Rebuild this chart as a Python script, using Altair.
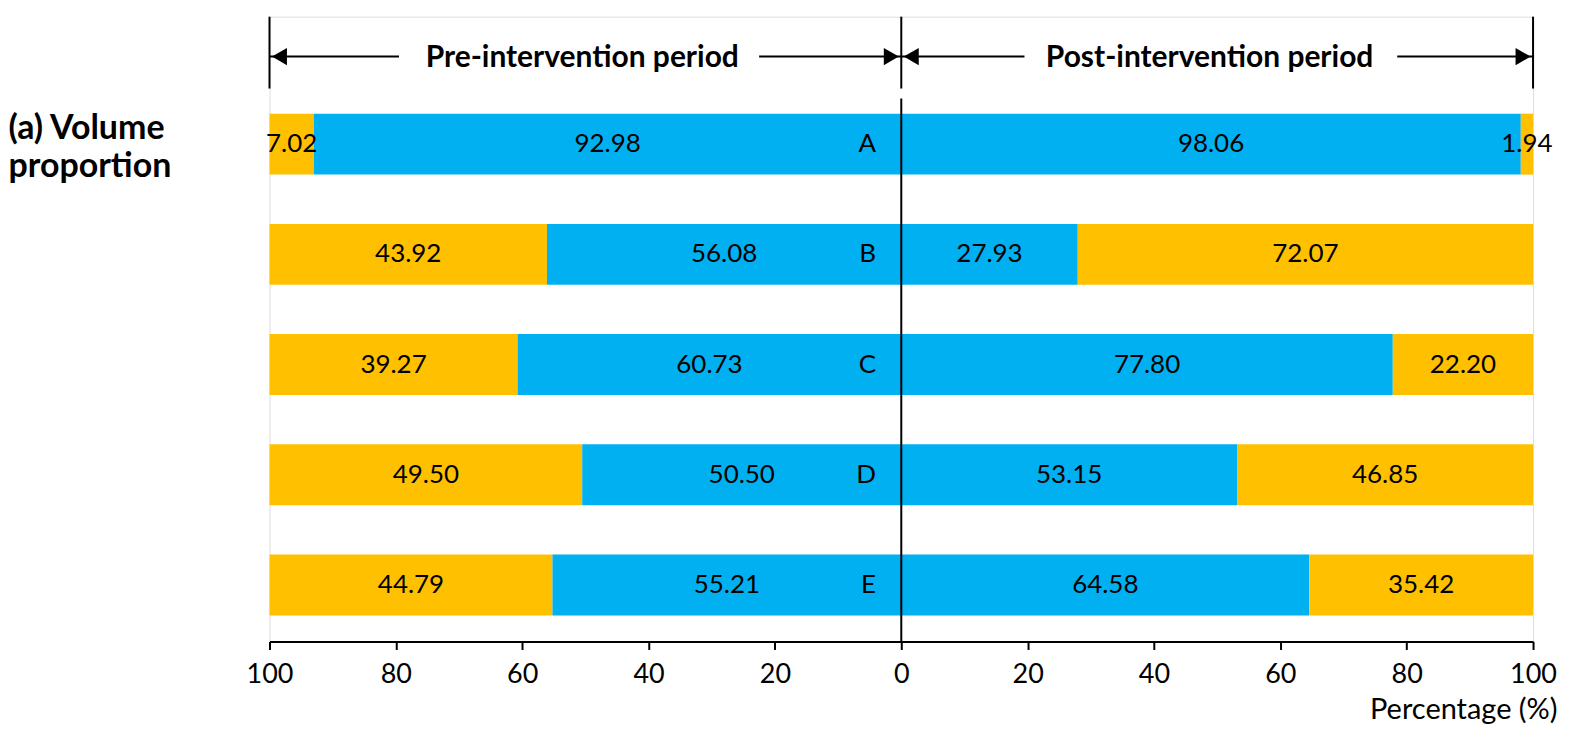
import altair as alt
import pandas as pd

categories = ["A", "B", "C", "D", "E"]
pre_yellow = [7.02, 43.92, 39.27, 49.50, 44.79]
pre_blue = [92.98, 56.08, 60.73, 50.50, 55.21]
post_blue = [98.06, 27.93, 77.80, 53.15, 64.58]
post_yellow = [1.94, 72.07, 22.20, 46.85, 35.42]
tick_values = [-100, -80, -60, -40, -20, 0, 20, 40, 60, 80, 100]
periods = ["Pre-intervention period", "Post-intervention period"]

YELLOW = "#FFC000"
BLUE = "#00B0F0"
FONT = "Lato"

rows = []
for i, c in enumerate(categories):
    rows.append(dict(cat=c, start=-100, end=-100 + pre_yellow[i], kind="y", value=pre_yellow[i]))
    rows.append(dict(cat=c, start=-pre_blue[i], end=0, kind="b", value=pre_blue[i]))
    rows.append(dict(cat=c, start=0, end=post_blue[i], kind="b", value=post_blue[i]))
    rows.append(dict(cat=c, start=post_blue[i], end=post_blue[i] + post_yellow[i], kind="y", value=post_yellow[i]))
seg = pd.DataFrame(rows)
seg["mid"] = (seg["start"] + seg["end"]) / 2
seg["label"] = seg["value"].map(lambda v: f"{v:.2f}")

cat_df = pd.DataFrame({"cat": categories, "pos": [-4] * len(categories)})

W, H = 1266, 626

xscale = alt.Scale(domain=[-100, 100], nice=False, zero=False)
yscale = alt.Scale(domain=categories, paddingInner=0.447, paddingOuter=0.5576, align=0.789)

xaxis = alt.Axis(
    values=tick_values, labelExpr="abs(datum.value)", grid=False, labelFlush=False,
    tickSize=8, tickWidth=2, tickColor="black", domainColor="black", domainWidth=2,
    labelFontSize=27, labelFont=FONT, labelColor="black", labelPadding=33,
    labelBaseline="alphabetic",
    title="Percentage (%)", titleFont=FONT, titleFontSize=29, titleFontWeight="normal",
    titleColor="black", titleAnchor="end", titleAlign="right", titleX=W + 24, titleY=77,
    titleBaseline="alphabetic",
)
yaxis = alt.Axis(
    labels=False, ticks=False, domain=False, grid=False,
    title=["(a) Volume", "proportion"], titleAngle=0, titleAlign="left",
    titleBaseline="alphabetic", titleX=-262, titleY=122, titleFont=FONT,
    titleFontSize=34, titleFontWeight="bold", titleColor="black", titleLineHeight=38,
)

bars = alt.Chart(seg).mark_bar(strokeWidth=0).encode(
    x=alt.X("start:Q", scale=xscale, axis=xaxis),
    x2="end:Q",
    y=alt.Y("cat:N", scale=yscale, axis=yaxis),
    color=alt.Color("kind:N", scale=alt.Scale(domain=["y", "b"], range=[YELLOW, BLUE]), legend=None),
)

labels = alt.Chart(seg).mark_text(font=FONT, fontSize=26, color="black", baseline="middle").encode(
    x=alt.X("mid:Q", scale=xscale), y=alt.Y("cat:N", scale=yscale), text="label:N"
)

cat_labels = alt.Chart(cat_df).mark_text(font=FONT, fontSize=26, color="black", align="right", baseline="middle").encode(
    x=alt.X("pos:Q", scale=xscale), y=alt.Y("cat:N", scale=yscale), text="cat:N"
)

# header elements
markers = pd.DataFrame({"x": [-100, 0, 100]})
top_rules = alt.Chart(markers).mark_rule(color="black", strokeWidth=2).encode(
    x=alt.X("x:Q", scale=xscale), y=alt.value(0), y2=alt.value(72)
)
zero_line = alt.Chart(pd.DataFrame({"x": [0]})).mark_rule(color="black", strokeWidth=2).encode(
    x=alt.X("x:Q", scale=xscale), y=alt.value(82), y2=alt.value(H)
)
arrow_lines_df = pd.DataFrame({"a": [-100, -22.5, 0, 78.5], "b": [-79.5, 0, 19.5, 100]})
arrow_lines = alt.Chart(arrow_lines_df).mark_rule(color="black", strokeWidth=2).encode(
    x=alt.X("a:Q", scale=xscale), x2="b:Q", y=alt.value(40)
)
heads_left = alt.Chart(pd.DataFrame({"x": [-100, 0]})).mark_point(
    shape="triangle-left", filled=True, color="black", size=300, opacity=1, xOffset=10
).encode(x=alt.X("x:Q", scale=xscale), y=alt.value(40))
heads_right = alt.Chart(pd.DataFrame({"x": [0, 100]})).mark_point(
    shape="triangle-right", filled=True, color="black", size=300, opacity=1, xOffset=-10
).encode(x=alt.X("x:Q", scale=xscale), y=alt.value(40))
head_text = alt.Chart(pd.DataFrame({"x": [-50.5, 48.8], "t": periods})).mark_text(
    font=FONT, fontSize=30, fontWeight="bold", color="black", baseline="middle"
).encode(x=alt.X("x:Q", scale=xscale), y=alt.value(41), text="t:N")

chart = alt.layer(
    bars, labels, cat_labels, zero_line, top_rules, arrow_lines, heads_left, heads_right, head_text
).properties(
    width=W, height=H, padding={"left": 0, "top": 7, "right": 5, "bottom": 0}
).configure_view(stroke=None).configure(background="white")

chart.save("out.html", embed_options={"renderer": "svg", "actions": False})
